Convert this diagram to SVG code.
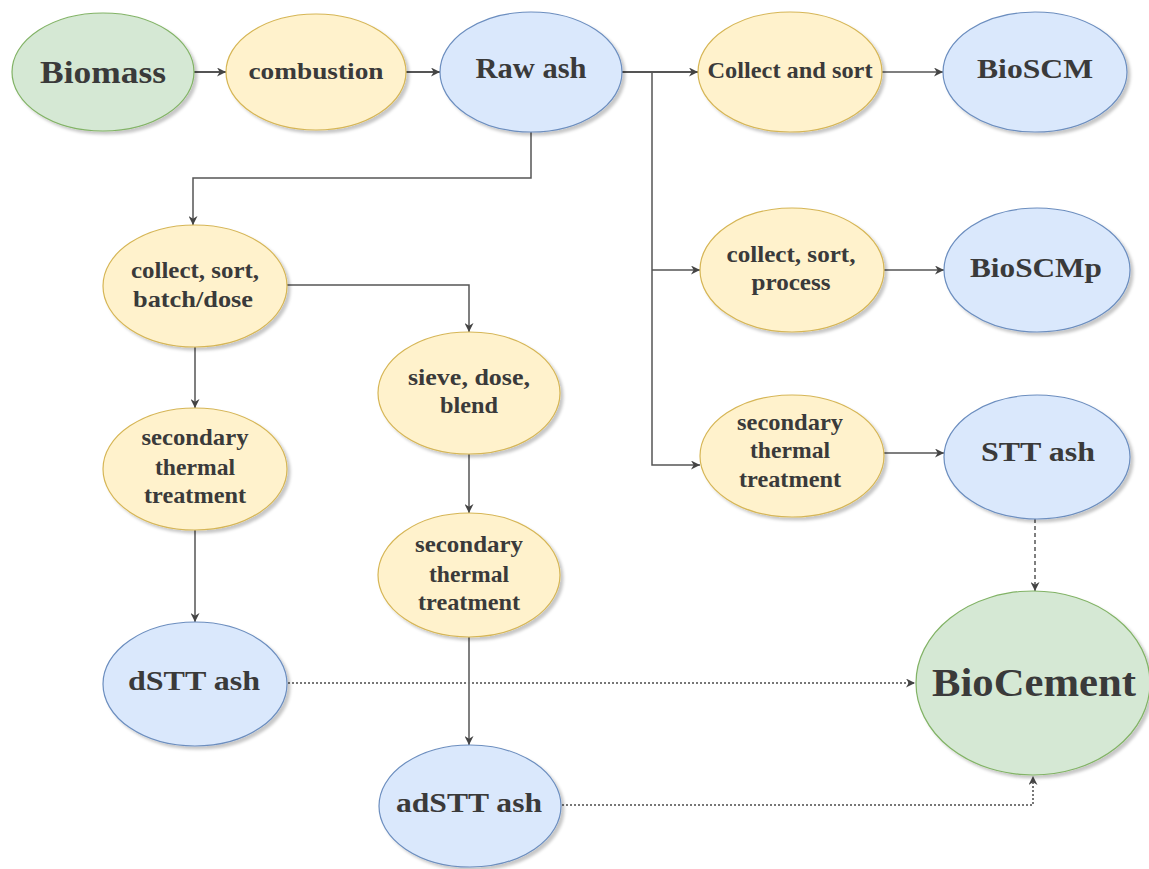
<svg xmlns="http://www.w3.org/2000/svg" width="1149" height="869" viewBox="0 0 1149 869">
<defs>
<filter id="sh" x="-10%" y="-10%" width="125%" height="130%">
<feDropShadow dx="3" dy="3" stdDeviation="1.5" flood-color="#000" flood-opacity="0.22"/>
</filter>
<marker id="arr" viewBox="0 0 10 10" refX="10" refY="5" markerWidth="9" markerHeight="9" markerUnits="userSpaceOnUse" orient="auto">
<path d="M0,0 L10,5 L0,10 L3,5 z" fill="#444"/>
</marker>
</defs>
<style>
.g{fill:#d5e8d4;stroke:#82b366;stroke-width:1.2;filter:url(#sh)}
.y{fill:#fff2cc;stroke:#d6b656;stroke-width:1.2;filter:url(#sh)}
.b{fill:#dae8fc;stroke:#6c8ebf;stroke-width:1.2;filter:url(#sh)}
text{font-family:"Liberation Serif","DejaVu Serif",serif;font-weight:bold;fill:#3a3a3a;text-anchor:middle}
.m{font-size:24px}
.c{fill:none;stroke:#555;stroke-width:1.5}
.ct{fill:none;stroke:#555;stroke-width:2}
.dot{fill:none;stroke:#777;stroke-width:2;stroke-dasharray:2,2}
.dash{fill:none;stroke:#555;stroke-width:1.5;stroke-dasharray:4,3}
</style>
<rect width="1149" height="869" fill="#fff"/>
<g id="connectors">
<path class="ct" d="M194,72 H226" marker-end="url(#arr)"/>
<path class="ct" d="M406,72 H440" marker-end="url(#arr)"/>
<path class="ct" d="M622,72 H698" marker-end="url(#arr)"/>
<path class="c" d="M652,72 V465 H700" marker-end="url(#arr)"/>
<path class="c" d="M652,270 H700" marker-end="url(#arr)"/>
<path class="c" d="M882,72 H943" marker-end="url(#arr)"/>
<path class="c" d="M884,270 H944" marker-end="url(#arr)"/>
<path class="c" d="M884,453 H944" marker-end="url(#arr)"/>
<path class="c" d="M531,132 V178 H193 V225" marker-end="url(#arr)"/>
<path class="c" d="M287,285 H469 V332" marker-end="url(#arr)"/>
<path class="c" d="M195,347 V408" marker-end="url(#arr)"/>
<path class="c" d="M195,530 V622" marker-end="url(#arr)"/>
<path class="c" d="M469,454 V513" marker-end="url(#arr)"/>
<path class="c" d="M469,637 V745" marker-end="url(#arr)"/>
<path class="dot" d="M288,683 H915" marker-end="url(#arr)"/>
<path class="dot" d="M562,805 H1033 V776" marker-end="url(#arr)"/>
<path class="dash" d="M1035,519 V591" marker-end="url(#arr)"/>
</g>
<g id="biomass"><ellipse class="g" cx="103" cy="72" rx="91" ry="59"/><text x="103" y="83" font-size="31" textLength="126" lengthAdjust="spacingAndGlyphs">Biomass</text></g>
<g id="combustion"><ellipse class="y" cx="316" cy="72" rx="90" ry="58"/><text x="316" y="79" font-size="24" textLength="135" lengthAdjust="spacingAndGlyphs">combustion</text></g>
<g id="rawash"><ellipse class="b" cx="531" cy="72" rx="91" ry="60"/><text x="531" y="78" font-size="29" textLength="111" lengthAdjust="spacingAndGlyphs">Raw ash</text></g>
<g id="collectsort"><ellipse class="y" cx="790" cy="72" rx="92" ry="60"/><text x="790" y="78" font-size="24" textLength="165" lengthAdjust="spacingAndGlyphs">Collect and sort</text></g>
<g id="bioscm"><ellipse class="b" cx="1035" cy="72" rx="92" ry="60"/><text x="1035" y="78" font-size="28" textLength="116" lengthAdjust="spacingAndGlyphs">BioSCM</text></g>
<g id="csb"><ellipse class="y" cx="195" cy="286" rx="92" ry="61"/><text class="m" x="195" y="278" textLength="128" lengthAdjust="spacingAndGlyphs">collect, sort,</text><text class="m" x="193" y="307" textLength="120" lengthAdjust="spacingAndGlyphs">batch/dose</text></g>
<g id="sieve"><ellipse class="y" cx="469" cy="393" rx="91" ry="61"/><text class="m" x="469" y="385" textLength="122" lengthAdjust="spacingAndGlyphs">sieve, dose,</text><text class="m" x="469" y="413" textLength="58" lengthAdjust="spacingAndGlyphs">blend</text></g>
<g id="sec1"><ellipse class="y" cx="195" cy="469" rx="92" ry="61"/><text class="m" x="195" y="445" textLength="107" lengthAdjust="spacingAndGlyphs">secondary</text><text class="m" x="195" y="475" textLength="80" lengthAdjust="spacingAndGlyphs">thermal</text><text class="m" x="195" y="503" textLength="102" lengthAdjust="spacingAndGlyphs">treatment</text></g>
<g id="sec2"><ellipse class="y" cx="469" cy="575" rx="91" ry="62"/><text class="m" x="469" y="552" textLength="108" lengthAdjust="spacingAndGlyphs">secondary</text><text class="m" x="469" y="582" textLength="80" lengthAdjust="spacingAndGlyphs">thermal</text><text class="m" x="469" y="610" textLength="102" lengthAdjust="spacingAndGlyphs">treatment</text></g>
<g id="dstt"><ellipse class="b" cx="195" cy="684" rx="92" ry="62"/><text x="194" y="690" font-size="28" textLength="132" lengthAdjust="spacingAndGlyphs">dSTT ash</text></g>
<g id="adstt"><ellipse class="b" cx="470" cy="806" rx="91" ry="61"/><text x="469" y="812" font-size="28" textLength="146" lengthAdjust="spacingAndGlyphs">adSTT ash</text></g>
<g id="csp"><ellipse class="y" cx="792" cy="270" rx="92" ry="62"/><text class="m" x="791" y="262" textLength="129" lengthAdjust="spacingAndGlyphs">collect, sort,</text><text class="m" x="791" y="290" textLength="79" lengthAdjust="spacingAndGlyphs">process</text></g>
<g id="bioscmp"><ellipse class="b" cx="1037" cy="270" rx="93" ry="62"/><text x="1036" y="277" font-size="28" textLength="132" lengthAdjust="spacingAndGlyphs">BioSCMp</text></g>
<g id="sec3"><ellipse class="y" cx="792" cy="456" rx="92" ry="61"/><text class="m" x="790" y="430" textLength="106" lengthAdjust="spacingAndGlyphs">secondary</text><text class="m" x="790" y="458" textLength="80" lengthAdjust="spacingAndGlyphs">thermal</text><text class="m" x="790" y="487" textLength="102" lengthAdjust="spacingAndGlyphs">treatment</text></g>
<g id="sttash"><ellipse class="b" cx="1037" cy="457" rx="93" ry="62"/><text x="1038" y="461" font-size="28" textLength="114" lengthAdjust="spacingAndGlyphs">STT ash</text></g>
<g id="biocement"><ellipse class="g" cx="1033" cy="683" rx="117" ry="92"/><text x="1034" y="696" font-size="39" textLength="204" lengthAdjust="spacingAndGlyphs">BioCement</text></g>
</svg>
